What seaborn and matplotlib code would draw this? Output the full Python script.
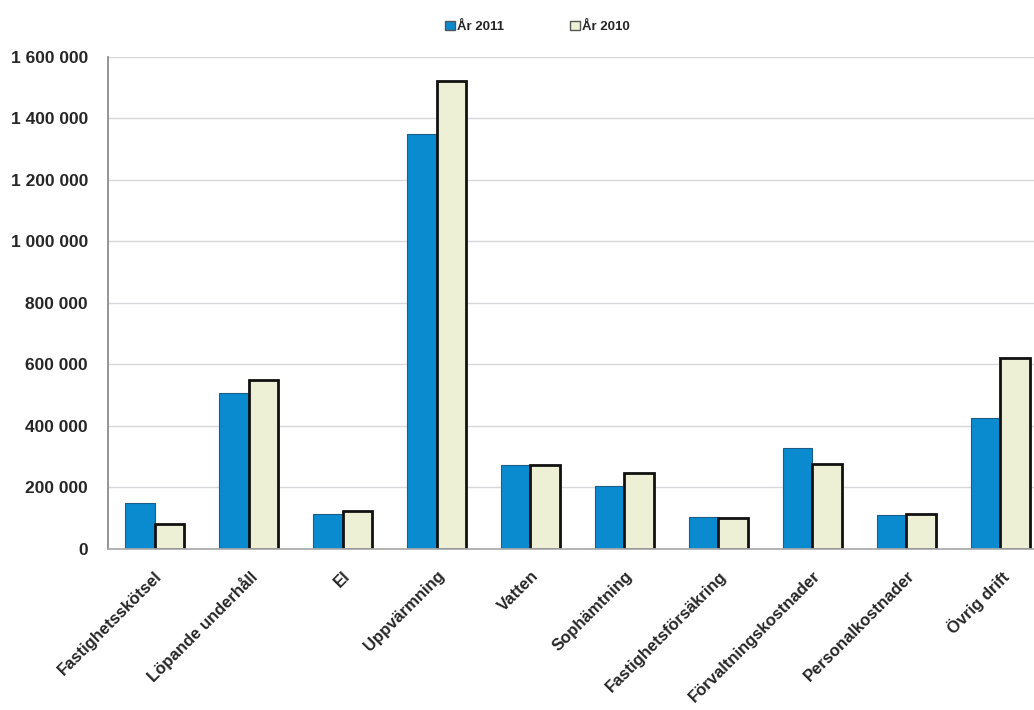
import matplotlib
matplotlib.use("Agg")
import matplotlib.pyplot as plt
import seaborn as sns
import pandas as pd
from matplotlib.ticker import FuncFormatter
from matplotlib.patches import Patch

# Kostnader per kategori
categories = ["Fastighetsskötsel", "Löpande underhåll", "El", "Uppvärmning", "Vatten",
              "Sophämtning", "Fastighetsförsäkring", "Förvaltningskostnader",
              "Personalkostnader", "Övrig drift"]
ar_2011 = [150000, 507000, 114000, 1348000, 272000, 205000, 105000, 328000, 111000, 427000]
ar_2010 = [82000, 550000, 124000, 1522000, 272000, 245000, 101000, 276000, 112000, 622000]
series = ["År 2011", "År 2010"]
colors = ["#0a8bd0", "#eef0d6"]

df = pd.DataFrame({
    "Kategori": categories * 2,
    "Belopp": ar_2011 + ar_2010,
    "Serie": [series[0]] * len(categories) + [series[1]] * len(categories),
})

sns.set_theme(style="white")
plt.rcParams["font.family"] = ["Liberation Sans", "DejaVu Sans"]
plt.rcParams["font.weight"] = "bold"

fig = plt.figure(figsize=(10.34, 7.10), dpi=100)
ax = fig.add_axes([0.104, 0.227, 0.909, 0.693])

sns.barplot(data=df, x="Kategori", y="Belopp", hue="Serie", palette=colors,
            saturation=1, width=0.62, gap=0, ax=ax, legend=False)

# kanter: ljusa staplar med svart ram
n = len(categories)
for i, bar in enumerate(ax.patches[:2 * n]):
    if i < n:
        bar.set_edgecolor("#1b5d85")
        bar.set_linewidth(0.8)
    else:
        bar.set_edgecolor("#111111")
        bar.set_linewidth(2.0)

ax.set_ylim(0, 1600000)
ax.set_xlim(-0.5, n - 0.5)
ax.set_yticks(range(0, 1600001, 200000))
ax.yaxis.set_major_formatter(FuncFormatter(lambda v, p: f"{int(v):,}".replace(",", " ")))
ax.yaxis.grid(True, color="#d8d8dc", linewidth=1)
ax.set_axisbelow(True)
ax.set_xlabel("")
ax.set_ylabel("")

for s in ["top", "right"]:
    ax.spines[s].set_visible(False)
ax.spines["left"].set_color("#888888")
ax.spines["bottom"].set_color("#aaaaaa")
ax.tick_params(axis="y", labelsize=12.5, length=0, pad=14)
ax.tick_params(axis="x", labelsize=12, length=0, pad=14)
for lab in ax.get_xticklabels():
    lab.set_rotation(45)
    lab.set_ha("right")
    lab.set_rotation_mode("anchor")
    lab.set_fontweight("bold")
for lab in ax.get_yticklabels():
    lab.set_fontweight("bold")

# legend
handles = [Patch(facecolor=colors[0], edgecolor="#555555"),
           Patch(facecolor=colors[1], edgecolor="#555555")]
fig.legend(handles, series, loc="center", bbox_to_anchor=(0.52, 0.962), ncol=2,
           frameon=False, handlelength=0.7, handleheight=0.7, handletextpad=0.2,
           columnspacing=5, prop={"size": 9.5, "weight": "bold"})

fig.savefig("out.png", dpi=100)
